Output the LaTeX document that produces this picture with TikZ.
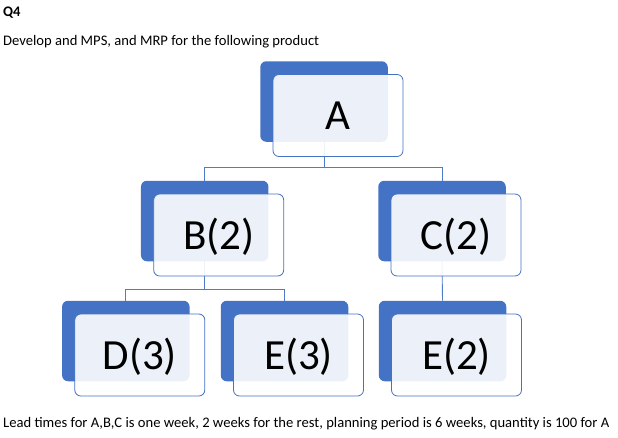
\documentclass[tikz,border=0pt]{standalone}
\usepackage{fontspec}
\setmainfont{Carlito}
\usetikzlibrary{calc}
\definecolor{accent}{HTML}{4472C4}
\definecolor{lineblue}{HTML}{4F7BC9}
\tikzset{
  darkbox/.style={draw=none, fill=accent, rounded corners=6pt, minimum width=127.5pt, minimum height=80.5pt, inner sep=0pt},
  frontbox/.style={draw=accent, line width=0.8pt, fill=white, fill opacity=0.9, text opacity=1, rounded corners=6pt, minimum width=130pt, minimum height=82pt, inner sep=0pt, font=\fontsize{43}{43}\selectfont, text height=28pt, text depth=0pt},
  conn/.style={draw=lineblue, line width=0.9pt},
  plain/.style={anchor=base west, inner sep=0pt, font=\fontsize{14.6}{17}\selectfont}
}
\begin{document}
\begin{tikzpicture}[x=1pt,y=-1pt]
\useasboundingbox (0,0) rectangle (618,437);
% invisible anchors for dark boxes (for connectors)
\path (324,101.5) node[darkbox, fill=none] (Ad) {}
      (204.7,221) node[darkbox, fill=none] (Bd) {}
      (442,221) node[darkbox, fill=none] (Cd) {}
      (125.8,341) node[darkbox, fill=none] (Dd) {}
      (284.5,341) node[darkbox, fill=none] (E3d) {}
      (442.5,341) node[darkbox, fill=none] (E2d) {};
\coordinate (j1) at (0,167.5);
\coordinate (j2) at (0,289);
% connectors
\draw[conn] (Ad.south) -- (Ad.south |- j1) -| (Bd.north);
\draw[conn] (Ad.south |- j1) -| (Cd.north);
\draw[conn] (Bd.south) -- (Bd.south |- j2) -| (Dd.north);
\draw[conn] (Bd.south |- j2) -| (E3d.north);
\draw[conn] (Cd.south) -- (E2d.north);
% boxes
\foreach \n/\t in {A/A, B/B(2), C/C(2), D/D(3), E3/E(3), E2/E(2)}{
  \node[darkbox] (\n back) at (\n d) {};
  \node[frontbox] (\n) at ($(\n d)+(14,14)$) {\t};
}
% texts
\node[plain, font=\fontsize{14.6}{17}\selectfont\bfseries] (q) at (3,16) {Q4};
\node[plain] (intro) at (3,45.3) {Develop and MPS, and MRP for the following product};
\node[plain] (foot) at (3,427.7) {Lead times for A,B,C is one week, 2 weeks for the rest, planning period is 6 weeks, quantity is 100 for A};
\end{tikzpicture}
\end{document}
